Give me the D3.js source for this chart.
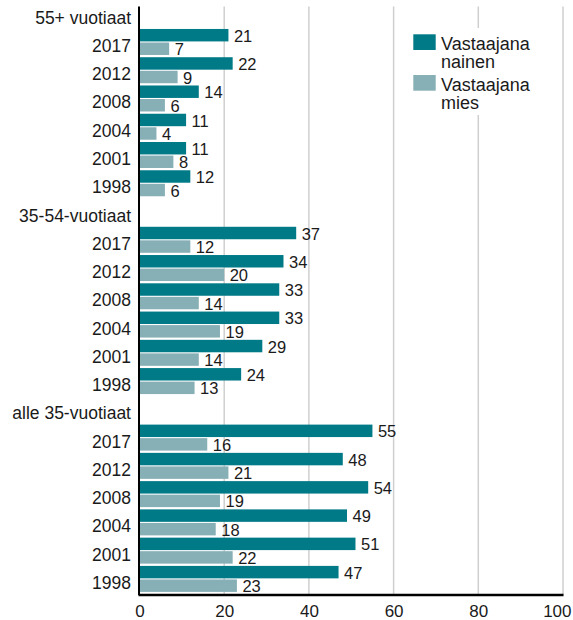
<!DOCTYPE html>
<html>
<head>
<meta charset="utf-8">
<script src="https://cdn.jsdelivr.net/npm/d3@7/dist/d3.min.js"></script>
<style>
  html, body { margin: 0; padding: 0; background: #fff; }
  svg { display: block; font-family: "Liberation Sans", Arial, Helvetica, sans-serif; }
</style>
</head>
<body>
<svg id="chart" width="573" height="620"></svg>
<script>
// ---- data ----
const groups = ["55+ vuotiaat", "35-54-vuotiaat", "alle 35-vuotiaat"];
const years = ["2017", "2012", "2008", "2004", "2001", "1998"];
const seriesNames = ["Vastaajana nainen", "Vastaajana mies"];
const naiset = [
  [21, 22, 14, 11, 11, 12],
  [37, 34, 33, 33, 29, 24],
  [55, 48, 54, 49, 51, 47]
];
const miehet = [
  [7, 9, 6, 4, 8, 6],
  [12, 20, 14, 19, 14, 13],
  [16, 21, 19, 18, 22, 23]
];
const xTicks = [0, 20, 40, 60, 80, 100];
const colors = ["#007a87", "#87afb6"];

// ---- build rows ----
const rows = [];
groups.forEach((g, gi) => {
  rows.push({ id: "h" + gi, label: g, header: true });
  years.forEach((y, yi) => {
    rows.push({ id: g + "|" + y, label: y, header: false, values: [naiset[gi][yi], miehet[gi][yi]] });
  });
});

const svg = d3.select("#chart");
const x = d3.scaleLinear().domain([0, 100]).range([139.5, 563]);
const y = d3.scaleBand().domain(rows.map(r => r.id)).range([-0.5, -0.5 + 21 * 28.26]).padding(0);
const inner = d3.scaleBand().domain([0, 1]).range([1.2, 27.2]).paddingInner(0.08).paddingOuter(0);

const plotTop = 6.5, plotBottom = 595;

// gridlines
svg.append("g").selectAll("line")
  .data(xTicks.filter(t => t > 0))
  .join("line")
  .attr("x1", d => x(d)).attr("x2", d => x(d))
  .attr("y1", plotTop).attr("y2", plotBottom)
  .attr("stroke", "#cfcfcf").attr("stroke-width", 1.5);

// bars
const rowG = svg.append("g").selectAll("g")
  .data(rows.filter(r => !r.header))
  .join("g")
  .attr("transform", d => `translate(0,${y(d.id)})`);

rowG.selectAll("rect")
  .data(d => d.values.map((v, i) => ({ v, i })))
  .join("rect")
  .attr("x", x(0))
  .attr("y", d => inner(d.i))
  .attr("width", d => x(d.v) - x(0))
  .attr("height", inner.bandwidth())
  .attr("fill", d => colors[d.i]);

rowG.selectAll("text.val")
  .data(d => d.values.map((v, i) => ({ v, i })))
  .join("text")
  .attr("class", "val")
  .attr("x", d => x(d.v) + 5.5)
  .attr("y", d => inner(d.i) + inner.bandwidth() + 0.3)
  .attr("font-size", 16.5)
  .attr("fill", "#1a1a1a")
  .text(d => d.v);

// row labels
svg.append("g").selectAll("text")
  .data(rows)
  .join("text")
  .attr("x", 131)
  .attr("y", d => y(d.id) + 24.2)
  .attr("text-anchor", "end")
  .attr("font-size", 17.5)
  .attr("fill", "#1a1a1a")
  .text(d => d.label);

// x axis
const xAxis = d3.axisBottom(x).tickValues(xTicks).tickSize(0).tickPadding(10);
const ax = svg.append("g").attr("transform", `translate(0,${plotBottom})`).call(xAxis);
ax.select(".domain").remove();
ax.selectAll("text")
  .attr("font-size", 17)
  .attr("font-family", "Liberation Sans, Arial, sans-serif")
  .attr("fill", "#1a1a1a")
  .attr("dy", "0.71em")
  .attr("text-anchor", d => d === 100 ? "end" : "middle")
  .attr("dx", d => d === 100 ? 8 : 0);

svg.append("line")
  .attr("x1", x(0) - 1).attr("x2", x(100) + 0.5)
  .attr("y1", plotBottom).attr("y2", plotBottom)
  .attr("stroke", "#000").attr("stroke-width", 2.5);
svg.append("line")
  .attr("x1", x(0) - 0.5).attr("x2", x(0) - 0.5)
  .attr("y1", plotTop).attr("y2", plotBottom)
  .attr("stroke", "#000").attr("stroke-width", 2);

// legend
const lg = svg.append("g");
lg.append("rect").attr("x", 405).attr("y", 28).attr("width", 150).attr("height", 87).attr("fill", "#fff");
seriesNames.forEach((name, i) => {
  const top = 34.3 + i * 40.7;
  lg.append("rect").attr("x", 413.3).attr("y", top).attr("width", 22.4).attr("height", 15.7).attr("fill", colors[i]);
  const words = name.split(" ");
  const t = lg.append("text").attr("x", 441).attr("y", top + 15.7).attr("font-size", 18).attr("fill", "#1a1a1a");
  words.forEach((w, wi) => {
    t.append("tspan").attr("x", 441).attr("dy", wi === 0 ? 0 : 18.3).text(w);
  });
});
</script>
</body>
</html>
